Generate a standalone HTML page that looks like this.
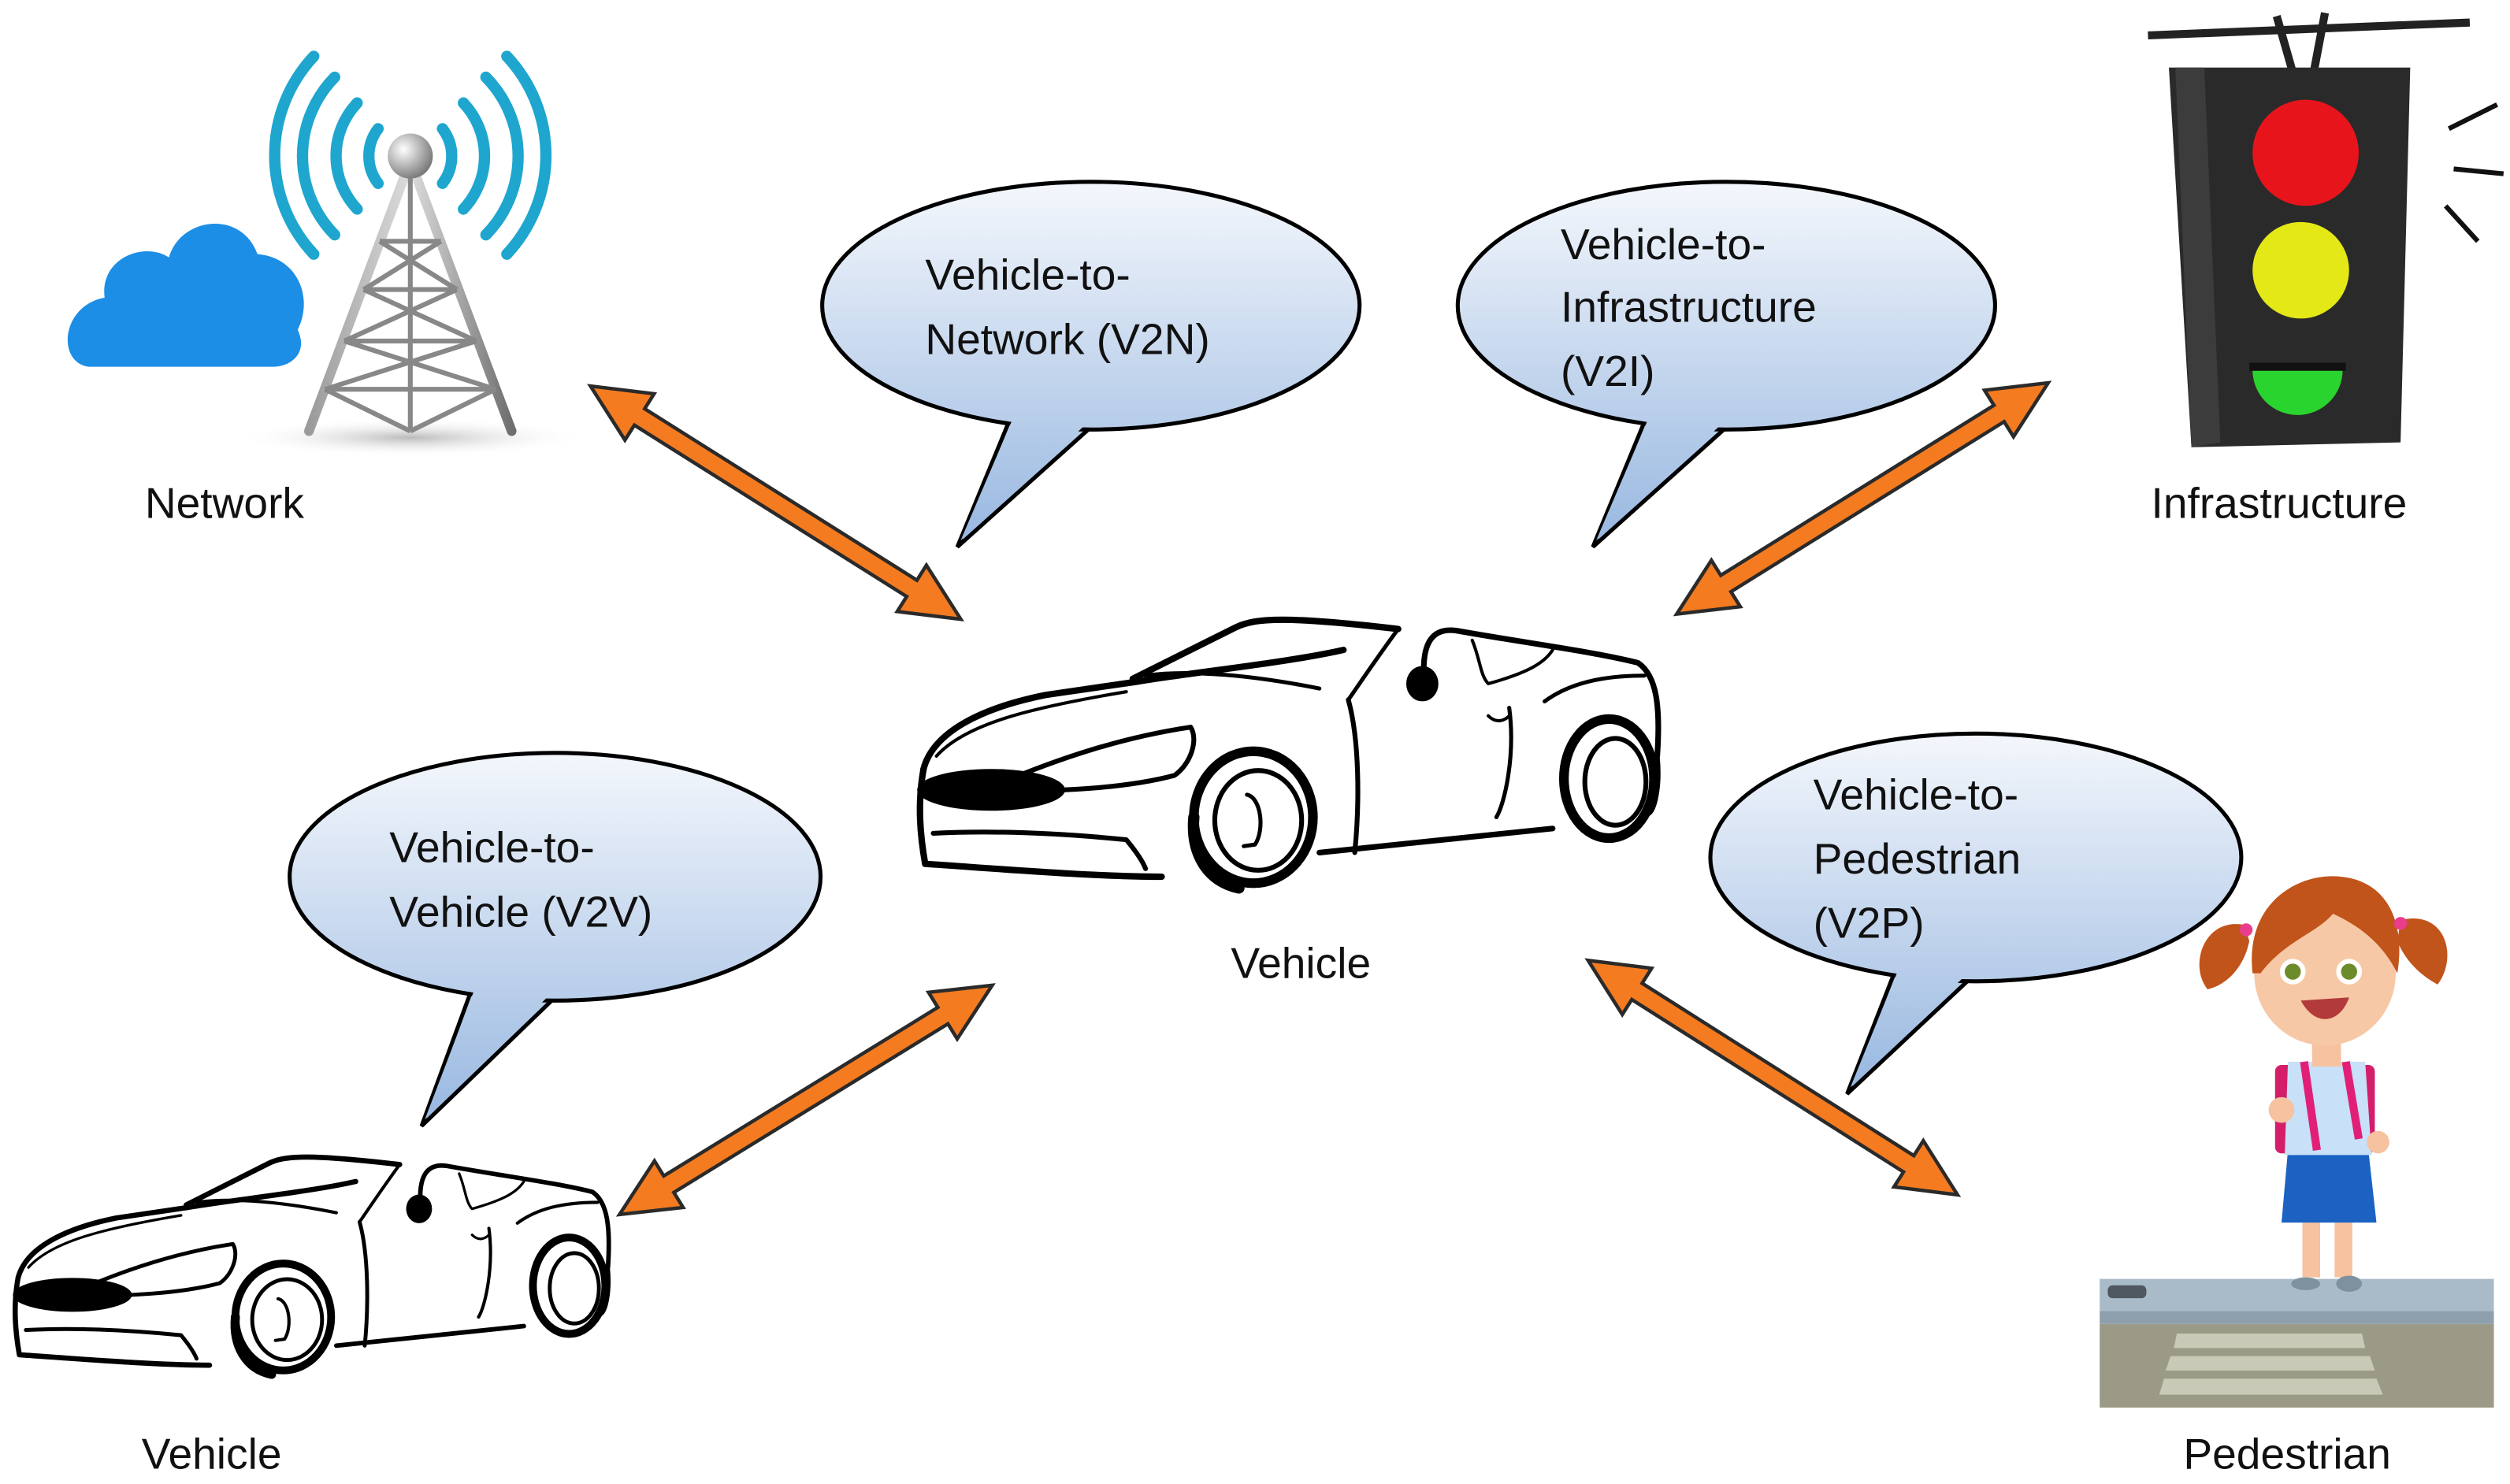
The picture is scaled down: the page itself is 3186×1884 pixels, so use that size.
<!DOCTYPE html>
<html><head><meta charset="utf-8"><style>
html,body{margin:0;padding:0;background:#fff;}
svg{display:block;}
text{font-family:"Liberation Sans",sans-serif;fill:#111;}
</style></head><body>
<svg width="3186" height="1884" viewBox="0 0 1560 922.5" xmlns="http://www.w3.org/2000/svg">
<defs>
<linearGradient id="g1" gradientUnits="userSpaceOnUse" x1="0" y1="113" x2="0" y2="340"><stop offset="0" stop-color="#f4f7fc"/><stop offset="1" stop-color="#97b7e0"/></linearGradient>
<linearGradient id="g2" gradientUnits="userSpaceOnUse" x1="0" y1="468" x2="0" y2="700"><stop offset="0" stop-color="#f4f7fc"/><stop offset="1" stop-color="#97b7e0"/></linearGradient>
<linearGradient id="g3" gradientUnits="userSpaceOnUse" x1="0" y1="456" x2="0" y2="680"><stop offset="0" stop-color="#f4f7fc"/><stop offset="1" stop-color="#97b7e0"/></linearGradient>
<linearGradient id="tw" x1="0" y1="0" x2="1" y2="0"><stop offset="0" stop-color="#9a9a9a"/><stop offset="0.5" stop-color="#dcdcdc"/><stop offset="1" stop-color="#6e6e6e"/></linearGradient>
<radialGradient id="ball" cx="0.35" cy="0.35" r="0.7"><stop offset="0" stop-color="#fff"/><stop offset="1" stop-color="#777"/></radialGradient>
<radialGradient id="shad" cx="0.5" cy="0.5" r="0.5"><stop offset="0" stop-color="#bbb"/><stop offset="1" stop-color="#fff" stop-opacity="0"/></radialGradient>
<g id="car" fill="none" stroke="#000" stroke-linecap="round" stroke-linejoin="round">
  <!-- body top / hood -->
  <path d="M574,478 C580,455 610,440 650,432 L705,424 C740,418 800,412 835,404" stroke-width="4"/>
  <path d="M582,470 C600,450 640,440 700,430" stroke-width="2"/>
  <!-- windshield -->
  <path d="M704,422 L768,390 C780,384 800,383 869,391" stroke-width="4"/>
  <path d="M712,420 C740,416 780,420 820,428" stroke-width="2.5"/>
  <path d="M869,391 C855,410 845,425 838,435" stroke-width="2.5"/>
  <!-- seat / rear -->
  <path d="M885,420 C884,400 890,390 905,392 C950,400 990,405 1018,412 C1030,420 1032,440 1030,470" stroke-width="3.5"/>
  <path d="M915,398 C920,410 920,420 925,425 C950,418 960,412 965,404" stroke-width="2"/>
  <path d="M960,436 C975,425 995,420 1022,420" stroke-width="2.5"/>
  <ellipse cx="884" cy="425" rx="10" ry="11" fill="#000" stroke="none"/>
  <path d="M925,445 C930,450 935,448 938,445" stroke-width="2"/>
  <!-- hood crease -->
  <path d="M612,491 C660,470 700,458 740,452 C745,460 740,475 730,482 C700,490 660,492 615,492" stroke-width="3"/>
  <!-- door line -->
  <path d="M838,435 C845,460 845,500 842,530" stroke-width="3"/>
  <path d="M938,440 C942,470 935,500 930,508" stroke-width="2.5"/>
  <!-- front bumper -->
  <path d="M574,478 C570,500 572,520 575,537 C620,540 680,545 722,545" stroke-width="4"/>
  <path d="M580,518 C620,516 660,518 700,522 C705,528 710,535 712,540" stroke-width="3"/>
  <!-- sill -->
  <path d="M820,530 C870,525 920,520 965,515" stroke-width="3.5"/>
  <path d="M1030,470 C1032,490 1028,505 1024,506" stroke-width="3"/>
  <!-- wheels -->
  <ellipse cx="779" cy="508" rx="37" ry="41" stroke-width="6"/>
  <ellipse cx="782" cy="510" rx="27" ry="31" stroke-width="3"/>
  <path d="M775,494 C784,496 786,516 780,525 L773,526" stroke-width="2.5"/>
  <path d="M742,508 C740,530 750,548 770,552" stroke-width="7"/>
  <ellipse cx="1000" cy="484" rx="28" ry="37" stroke-width="6"/>
  <ellipse cx="1004" cy="486" rx="19" ry="27" stroke-width="3"/>
  <ellipse cx="616" cy="491" rx="46" ry="13" fill="#000" stroke="none"/>
</g>
<g id="arr"><polygon points="0,0 36,-17 36,-6 236,-6 236,-17 272,0 236,17 236,6 36,6 36,17" fill="#f47b20" stroke="#2a2a2a" stroke-width="2.2" stroke-linejoin="miter"/></g>
</defs>

<!-- Cloud -->
<path d="M55,228 C35,225 38,190 65,185 C62,160 90,150 105,160 C112,135 150,130 160,158 C185,160 195,185 185,205 C192,220 180,228 170,228 Z" fill="#1c8ee6"/>
<!-- Tower -->
<ellipse cx="255" cy="272" rx="110" ry="12" fill="url(#shad)"/>
<g stroke="url(#tw)" stroke-width="6" fill="none" stroke-linecap="round">
  <path d="M252,108 L192,268 M258,108 L318,268"/>
</g>
<g stroke="#888" stroke-width="3" fill="none">
  <path d="M236,150 L274,150 M226,180 L284,180 M214,212 L296,212 M202,242 L308,242"/>
  <path d="M236,150 L284,180 M274,150 L226,180 M226,180 L296,212 M284,180 L214,212 M214,212 L308,242 M296,212 L202,242 M202,242 L255,268 M308,242 L255,268"/>
  <path d="M255,110 L255,268"/>
</g>
<circle cx="255" cy="97" r="14" fill="url(#ball)"/>
<g fill="none" stroke="#1fa6cf" stroke-width="7" stroke-linecap="round">
  <path d="M235,80 A28,28 0 0 0 235,114"/><path d="M275,80 A28,28 0 0 1 275,114"/>
  <path d="M222,64 A48,48 0 0 0 222,130"/><path d="M288,64 A48,48 0 0 1 288,130"/>
  <path d="M208,48 A70,70 0 0 0 208,146"/><path d="M302,48 A70,70 0 0 1 302,146"/>
  <path d="M195,35 A90,90 0 0 0 195,158"/><path d="M315,35 A90,90 0 0 1 315,158"/>
</g>
<text x="90" y="322" font-size="27">Network</text>

<!-- Traffic light -->
<path d="M1335,22 L1535,14" stroke="#222" stroke-width="5"/>
<path d="M1415,10 L1425,45 M1445,8 L1438,45" stroke="#222" stroke-width="5"/>
<path d="M1348,42 L1498,42 L1492,275 L1362,278 Z" fill="#2a2a2a"/>
<path d="M1352,42 L1370,42 L1380,275 L1362,278 Z" fill="#3c3c3c"/>
<circle cx="1433" cy="95" r="33" fill="#e8141b"/>
<circle cx="1430" cy="168" r="30" fill="#e4e817"/>
<path d="M1400,230 A28,28 0 0 0 1456,230 Z" fill="#2ad42e"/>
<path d="M1398,228 L1458,228" stroke="#111" stroke-width="5"/>
<path d="M1522,80 L1552,65 M1525,105 L1556,108 M1520,128 L1540,150" stroke="#111" stroke-width="3"/>
<text x="1337" y="322" font-size="27">Infrastructure</text>

<!-- Pedestrian -->
<rect x="1305" y="795" width="245" height="20" fill="#a9bac9"/>
<rect x="1305" y="815" width="245" height="8" fill="#8e9fae"/>
<rect x="1305" y="823" width="245" height="52" fill="#9b9a86"/>
<rect x="1310" y="799" width="24" height="8" rx="3" fill="#4f5860"/>
<polygon points="1353,829 1468,829 1470,838 1351,838" fill="#c9c9b7"/>
<polygon points="1349,843 1473,843 1476,852 1346,852" fill="#c9c9b7"/>
<polygon points="1345,857 1477,857 1481,867 1342,867" fill="#c9c9b7"/>
<rect x="1431" y="758" width="11" height="36" fill="#f6c2a0"/>
<rect x="1451" y="758" width="11" height="36" fill="#f6c2a0"/>
<ellipse cx="1433" cy="798" rx="9" ry="4" fill="#7d929e"/>
<ellipse cx="1460" cy="798" rx="8" ry="5" fill="#7d929e"/>
<path d="M1422,715 L1472,715 L1477,760 L1418,760 Z" fill="#1b62c2"/>
<rect x="1414" y="662" width="16" height="55" rx="4" fill="#d41e6a"/>
<rect x="1460" y="662" width="16" height="55" rx="4" fill="#d41e6a"/>
<path d="M1422,660 L1470,660 L1474,718 L1420,718 Z" fill="#c8e0f8"/>
<path d="M1432,660 L1440,715 M1458,660 L1466,708" stroke="#e11f77" stroke-width="5"/>
<circle cx="1418" cy="690" r="8" fill="#f6c2a0"/>
<circle cx="1478" cy="710" r="7" fill="#f6c2a0"/>
<rect x="1437" y="645" width="18" height="18" fill="#f6c2a0"/>
<ellipse cx="1445" cy="605" rx="44" ry="45" fill="#f7c8a6"/>
<path d="M1400,605 C1395,560 1430,542 1455,545 C1485,548 1495,575 1490,605 C1480,585 1465,575 1450,568 C1440,580 1420,585 1405,605 Z" fill="#c1541a"/>
<path d="M1395,575 C1370,570 1360,600 1372,615 C1385,612 1395,600 1398,585 Z" fill="#c1541a"/>
<path d="M1492,572 C1520,565 1528,595 1515,612 C1502,605 1494,595 1490,585 Z" fill="#c1541a"/>
<circle cx="1396" cy="578" r="4" fill="#ea3c8d"/><circle cx="1492" cy="574" r="4" fill="#ea3c8d"/>
<circle cx="1425" cy="604" r="8" fill="#fff"/><circle cx="1425" cy="604" r="5" fill="#6c8b2a"/>
<circle cx="1460" cy="604" r="8" fill="#fff"/><circle cx="1460" cy="604" r="5" fill="#6c8b2a"/>
<path d="M1430,622 C1440,640 1455,635 1460,620 Z" fill="#b23a3a"/>
<text x="1357" y="913" font-size="27">Pedestrian</text>

<!-- Arrows -->
<use href="#arr" transform="translate(367,240) rotate(32.2)"/>
<use href="#arr" transform="translate(1273,238) rotate(148.1)"/>
<use href="#arr" transform="translate(385,755) rotate(-31.6)"/>
<use href="#arr" transform="translate(987,597) rotate(32.4)"/>

<!-- Bubbles -->
<g stroke="#000" stroke-width="2.5">
 <polygon points="630,255 682,262 595,340" fill="url(#g1)"/>
 <ellipse cx="678" cy="190" rx="167" ry="77" fill="url(#g1)"/>
 <polygon points="633,252 680,259 597,336" fill="url(#g1)" stroke="none"/>
 <polygon points="1025,255 1077,262 990,340" fill="url(#g1)"/>
 <ellipse cx="1073" cy="190" rx="167" ry="77" fill="url(#g1)"/>
 <polygon points="1028,252 1075,259 992,336" fill="url(#g1)" stroke="none"/>
 <polygon points="295,610 347,618 262,700" fill="url(#g2)"/>
 <ellipse cx="345" cy="545" rx="165" ry="77" fill="url(#g2)"/>
 <polygon points="298,607 345,615 264,696" fill="url(#g2)" stroke="none"/>
 <polygon points="1180,598 1227,606 1148,680" fill="url(#g3)"/>
 <ellipse cx="1228" cy="533" rx="165" ry="77" fill="url(#g3)"/>
 <polygon points="1183,595 1225,603 1150,676" fill="url(#g3)" stroke="none"/>
</g>
<g font-size="27">
<text x="575" y="180">Vehicle-to-</text><text x="575" y="220">Network (V2N)</text>
<text x="970" y="161">Vehicle-to-</text><text x="970" y="200">Infrastructure</text><text x="970" y="240">(V2I)</text>
<text x="242" y="536">Vehicle-to-</text><text x="242" y="576">Vehicle (V2V)</text>
<text x="1127" y="503">Vehicle-to-</text><text x="1127" y="543">Pedestrian</text><text x="1127" y="583">(V2P)</text>
</g>

<!-- Cars -->
<use href="#car"/>
<use href="#car" transform="translate(8,715) scale(0.804,0.81) translate(-570,-380)"/>
<text x="765" y="608" font-size="27">Vehicle</text>
<text x="88" y="913" font-size="27">Vehicle</text>
</svg>
</body></html>
